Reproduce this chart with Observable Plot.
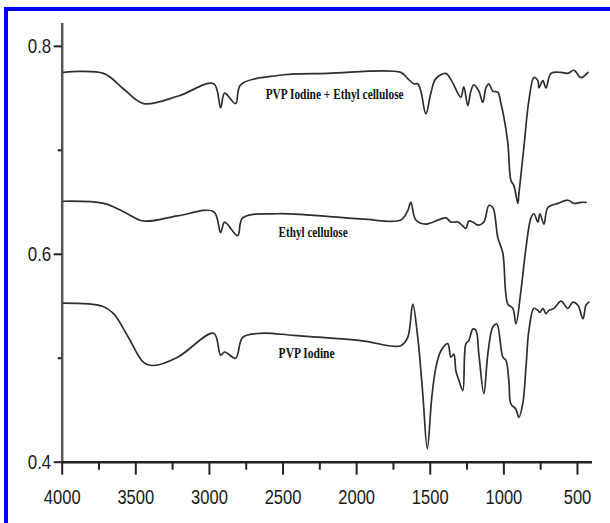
<!DOCTYPE html>
<html><head><meta charset="utf-8">
<script src="https://cdn.jsdelivr.net/npm/d3@7"></script>
<script src="https://cdn.jsdelivr.net/npm/@observablehq/plot@0.6"></script>
<style>
body{margin:0;background:#fff;}
#wrap{position:relative;width:610px;height:523px;overflow:hidden;background:#fff;}
#frame{position:absolute;left:4px;top:7px;width:640px;height:560px;border-top:4px solid #0000ff;border-left:4px solid #0000ff;}
#chart{position:absolute;left:0;top:0;}
</style></head><body>
<div id="wrap"><div id="frame"></div><div id="chart"></div></div>
<script>
// Series names
const seriesNames = ["PVP Iodine + Ethyl cellulose", "Ethyl cellulose", "PVP Iodine"];

// PVP Iodine + Ethyl cellulose (top)
const wnTop = [3991,3719,3583,3447,3216,2971,2924,2897,2822,2788,2536,2197,1700,1653,1612,1585,1564,1530,1496,1462,1394,1360,1340,1313,1292,1272,1245,1224,1204,1170,1143,1122,1102,1075,1041,1020,1000,973,952,932,905,898,864,830,796,769,762,735,714,680,612,565,524,476,429];
const absTop = [0.775,0.774,0.759,0.745,0.752,0.764,0.741,0.755,0.745,0.763,0.772,0.774,0.775,0.769,0.764,0.764,0.757,0.735,0.755,0.769,0.774,0.768,0.763,0.755,0.751,0.761,0.743,0.757,0.763,0.757,0.746,0.760,0.764,0.757,0.756,0.745,0.732,0.707,0.671,0.666,0.649,0.658,0.703,0.748,0.770,0.767,0.760,0.767,0.760,0.774,0.775,0.774,0.777,0.770,0.775];

// Ethyl cellulose (middle)
const wnMid = [3991,3719,3583,3447,3216,2971,2924,2897,2808,2774,2536,1972,1700,1653,1632,1598,1530,1394,1360,1313,1292,1258,1238,1211,1177,1136,1102,1075,1041,1007,973,939,918,884,850,816,796,769,755,728,701,633,565,524,476,442];
const absMid = [0.651,0.649,0.641,0.632,0.637,0.641,0.621,0.631,0.618,0.635,0.639,0.634,0.633,0.642,0.650,0.633,0.629,0.635,0.631,0.631,0.629,0.625,0.632,0.631,0.628,0.631,0.647,0.645,0.616,0.601,0.552,0.548,0.533,0.565,0.606,0.635,0.639,0.631,0.639,0.629,0.645,0.649,0.652,0.649,0.650,0.650];

// PVP Iodine (bottom)
const wnBot = [3991,3726,3651,3550,3447,3379,3216,2971,2924,2897,2822,2774,2652,2428,1972,1700,1653,1619,1585,1551,1520,1490,1462,1428,1381,1360,1340,1326,1306,1279,1258,1238,1211,1190,1170,1136,1109,1075,1048,1007,986,966,952,918,898,871,850,830,796,769,755,735,714,694,660,612,565,531,497,463,442,422];
const absBot = [0.553,0.550,0.543,0.520,0.496,0.493,0.501,0.524,0.503,0.506,0.500,0.520,0.524,0.522,0.517,0.512,0.520,0.552,0.520,0.466,0.413,0.462,0.491,0.507,0.514,0.501,0.504,0.488,0.479,0.469,0.514,0.517,0.528,0.527,0.504,0.466,0.504,0.530,0.533,0.501,0.498,0.478,0.456,0.451,0.443,0.457,0.491,0.527,0.548,0.546,0.544,0.548,0.543,0.546,0.548,0.555,0.548,0.554,0.551,0.538,0.551,0.554];

// Label anchor positions (data units)
const labelWn = [2618, 2530, 2530];
const labelAbs = [0.754, 0.621, 0.505];

// Ticks
const xTicks = [4000,3500,3000,2500,2000,1500,1000,500];
const xMinor = [3750,3250,2750,2250,1750,1250,750];
const yTicks = [0.4,0.6,0.8];
const yMinor = [0.5,0.7];

const rows = [];
[[wnTop, absTop, seriesNames[0]], [wnMid, absMid, seriesNames[1]], [wnBot, absBot, seriesNames[2]]]
  .forEach(([w, a, s]) => w.forEach((x, i) => rows.push({wn: x, abs: a[i], s})));
const labels = seriesNames.map((name, i) => ({name, wn: labelWn[i], abs: labelAbs[i]}));
const labelLengths = [138, 69, 56];

const tickFont = "'Liberation Sans', Arial, sans-serif";

const chart = Plot.plot({
  width: 610, height: 523,
  marginLeft: 61.7, marginRight: 18, marginTop: 23, marginBottom: 61.3,
  x: {domain: [4000, 398]},
  y: {domain: [0.4, 0.822]},
  style: {background: "transparent", fontFamily: tickFont, fontSize: "20px", color: "#1a1a1a"},
  marks: [
    Plot.ruleX([4000], {y1: 0.4, y2: 0.822, stroke: "#555", strokeWidth: 2.5}),
    Plot.ruleY([0.4], {x1: 4000, x2: 398, stroke: "#222", strokeWidth: 2.5}),
    Plot.axisX(xTicks, {tickSize: 13, tickPadding: 15, strokeWidth: 2, stroke: "#222", label: null, tickFormat: d => String(d)}),
    Plot.axisX(xMinor, {tickSize: 8, strokeWidth: 2, stroke: "#222", label: null, tickFormat: () => ""}),
    Plot.axisY(yTicks, {tickSize: 8, tickPadding: 3, strokeWidth: 2, stroke: "#222", label: null, tickFormat: d3.format(".1f")}),
    Plot.axisY(yMinor, {tickSize: 4, strokeWidth: 2, stroke: "#222", label: null, tickFormat: () => ""}),
    Plot.line(rows, {x: "wn", y: "abs", z: "s", stroke: "#2e2e2e", strokeWidth: 1.7, curve: "catmull-rom"}),
    Plot.text(labels, {x: "wn", y: "abs", text: "name", textAnchor: "start", lineAnchor: "middle",
      fontFamily: "'Liberation Serif', 'Times New Roman', serif", fontWeight: "bold", fontSize: 14, fill: "#111"})
  ]
});
document.getElementById("chart").appendChild(chart);
const textGroups = chart.querySelectorAll('g[aria-label="text"]');
const lg = textGroups[textGroups.length - 1];
lg.querySelectorAll("text").forEach((t, i) => {
  t.setAttribute("textLength", labelLengths[i]);
  t.setAttribute("lengthAdjust", "spacingAndGlyphs");
});
// condense the tick labels like the reference's narrow face
chart.querySelectorAll('g[aria-label="x-axis tick label"] text, g[aria-label="y-axis tick label"] text').forEach(t => {
  const s = t.textContent;
  if (!s) return;
  const w = s.replace(".", "").length * 9.2 + (s.includes(".") ? 5 : 0);
  t.setAttribute("textLength", w);
  t.setAttribute("lengthAdjust", "spacingAndGlyphs");
});
</script>
</body></html>
